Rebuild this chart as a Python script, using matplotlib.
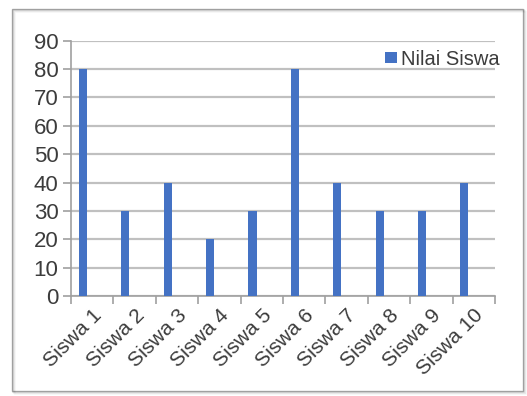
import matplotlib
matplotlib.use("Agg")
import matplotlib.pyplot as plt
from matplotlib.patches import Rectangle
import numpy as np

categories = ["Siswa 1", "Siswa 2", "Siswa 3", "Siswa 4", "Siswa 5",
              "Siswa 6", "Siswa 7", "Siswa 8", "Siswa 9", "Siswa 10"]
nilai = [80, 30, 40, 20, 30, 80, 40, 30, 30, 40]
series_name = "Nilai Siswa"
y_ticks = [0, 10, 20, 30, 40, 50, 60, 70, 80, 90]

plt.rcParams['font.family'] = ['Liberation Sans', 'DejaVu Sans']
text_color = '#3c3c3c'
grid_color = '#c0c0c0'
bar_color = '#4472C4'

fig = plt.figure(figsize=(5.27, 3.96), dpi=100)
fig.patch.set_facecolor('white')

# chart frame with a soft shadow
W, H = 527, 396
for i, a in enumerate([0.10, 0.07, 0.04]):
    fig.add_artist(Rectangle(((12 + 1 + i) / W, 1 - (391 + 1 + i) / H),
                             (511) / W, (382) / H, transform=fig.transFigure,
                             facecolor='none', edgecolor=(0, 0, 0, a), lw=1.2))
fig.add_artist(Rectangle((12 / W, 1 - 391 / H), 511 / W, 382 / H,
                         transform=fig.transFigure, facecolor='white',
                         edgecolor='#b0b0b0', lw=1.0, zorder=0))

ax = fig.add_axes([71 / W, 1 - 296 / H, (495 - 71) / W, (296 - 40.7) / H])
ax.set_facecolor('none')

x = np.arange(len(categories))
ax.bar(x - 0.22, nilai, width=0.19, color=bar_color, label=series_name, zorder=3)

ax.set_xlim(-0.5, len(categories) - 0.5)
ax.set_ylim(0, 90)
ax.set_yticks(y_ticks)
ax.yaxis.grid(True, color=grid_color, lw=1.6, zorder=0)
ax.set_axisbelow(True)

ax.set_xticks(x)
ax.set_xticklabels(categories, rotation=45, ha='right', rotation_mode='anchor',
                   fontsize=15, color=text_color)
ax.set_xticks(np.arange(-0.5, len(categories), 1.0), minor=True)
ax.tick_params(axis='x', which='major', length=0, pad=7)
ax.tick_params(axis='x', which='minor', length=6, width=1.2, color='#a0a0a0', direction='out')
ax.tick_params(axis='y', length=6, width=1.2, color='#a0a0a0', labelsize=16,
               labelcolor=text_color, pad=3)

for s in ['top', 'right']:
    ax.spines[s].set_visible(False)
for s in ['left', 'bottom']:
    ax.spines[s].set_color('#a0a0a0')
    ax.spines[s].set_linewidth(1.2)

leg = ax.legend(loc='upper right', bbox_to_anchor=(1.03, 0.995), frameon=False,
                fontsize=14.5, handlelength=0.6, handleheight=0.45,
                handletextpad=0.2, borderaxespad=0)
for t in leg.get_texts():
    t.set_color(text_color)

fig.savefig("out.png", dpi=100)
